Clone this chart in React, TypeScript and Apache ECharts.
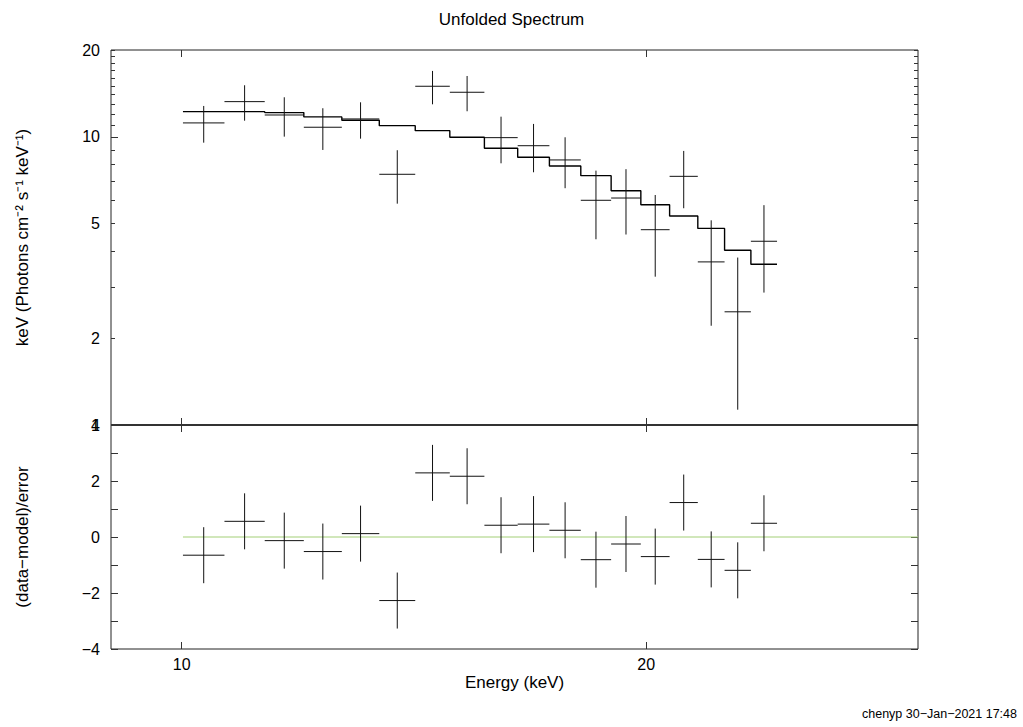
import React, { useEffect, useRef } from "react";
import * as echarts from "echarts";

// ---- data ----
const binEdges = [10.02, 10.66, 11.32, 12.0, 12.7, 13.43, 14.17, 14.92, 15.71, 16.51, 17.31, 18.14, 18.98, 19.84, 20.71, 21.6, 22.48, 23.38, 24.31];
const flux = [11.17, 13.24, 11.9, 10.79, 11.53, 7.41, 14.97, 14.27, 9.93, 9.31, 8.31, 6.02, 6.13, 4.76, 7.29, 3.68, 2.47, 4.34];
const fluxLow = [9.54, 11.37, 10.01, 9.0, 9.85, 5.86, 12.96, 12.26, 8.09, 7.53, 6.63, 4.41, 4.58, 3.27, 5.65, 2.21, 1.13, 2.88];
const fluxHigh = [12.79, 15.09, 13.71, 12.56, 13.17, 8.98, 16.92, 16.25, 11.74, 11.08, 9.96, 7.63, 7.72, 6.28, 8.93, 5.13, 3.81, 5.79];
const model = [12.22, 12.22, 12.13, 11.72, 11.41, 10.93, 10.5, 9.96, 9.12, 8.49, 7.92, 7.33, 6.5, 5.81, 5.31, 4.81, 4.04, 3.61];
const residual = [-0.65, 0.56, -0.13, -0.52, 0.12, -2.27, 2.29, 2.17, 0.42, 0.46, 0.24, -0.81, -0.25, -0.7, 1.23, -0.8, -1.19, 0.49];
const residualErr = [1, 1, 1, 1, 1, 1, 1, 1, 1, 1, 1, 1, 1, 1, 1, 1, 1, 1];

const xMin = 9;
const xMax = 30;
const xTickLabels = [10, 20];
const yTopMin = 1;
const yTopMax = 20;
const yTopLabels = [1, 2, 5, 10, 20];
const yTopMinorTicks = [1, 2, 3, 4, 5, 6, 7, 8, 9, 10, 11, 12, 13, 14, 15, 16, 17, 18, 19, 20];
const yTopMajorTicks = [10];
const yResMin = -4;
const yResMax = 4;

const F = "'Liberation Sans', Arial, Helvetica, sans-serif";
const lg = (v: number) => Math.log10(v);

function buildCross(values: number[], lows: number[], highs: number[]) {
  return values.map((v, i) => {
    const a = binEdges[i];
    const b = binEdges[i + 1];
    return [a, b, Math.sqrt(a * b), v, lows[i], highs[i]];
  });
}

const renderCross = (params: any, api: any) => {
  const x0 = api.value(0), x1 = api.value(1), xc = api.value(2);
  const y = api.value(3), lo = api.value(4), hi = api.value(5);
  const pL = api.coord([x0, y]);
  const pR = api.coord([x1, y]);
  const pT = api.coord([xc, hi]);
  const pB = api.coord([xc, lo]);
  const st = { stroke: "#111", lineWidth: 1 };
  return {
    type: "group",
    children: [
      { type: "line", shape: { x1: pL[0], y1: pL[1], x2: pR[0], y2: pR[1] }, style: st },
      { type: "line", shape: { x1: pT[0], y1: pT[1], x2: pB[0], y2: pB[1] }, style: st },
    ],
  };
};

export default function App() {
  const ref = useRef<HTMLDivElement>(null);
  useEffect(() => {
    if (!ref.current) return;
    const chart = echarts.init(ref.current, undefined, { renderer: "svg" });

    const labelStyle = { fontFamily: F, fontSize: 16, color: "#000" };
    const tickLine = { color: "#333", width: 1 };
    const hiddenAxis = (grid: number, type: string, min: number, max: number) => ({
      gridIndex: grid, type, min, max, show: false, axisLine: { show: false, onZero: false },
    });
    const xTickAxis = (grid: number, position: string, labels: boolean, name?: string) => ({
      gridIndex: grid,
      type: "value",
      position,
      min: lg(xMin),
      max: lg(xMax),
      axisLine: { show: false, onZero: false },
      splitLine: { show: false },
      axisTick: { show: true, inside: true, length: 7, lineStyle: tickLine, customValues: xTickLabels.map(lg) },
      axisLabel: {
        show: labels,
        margin: 7,
        customValues: xTickLabels.map(lg),
        formatter: (v: number) => String(Math.round(Math.pow(10, v))),
        ...labelStyle,
      },
      name: name || "",
      nameLocation: "middle",
      nameGap: 25,
      nameTextStyle: { fontFamily: F, fontSize: 17, color: "#000" },
    });
    const yTopTickAxis = (position: string, ticks: number[], len: number, labels: boolean, name?: string) => ({
      gridIndex: 0,
      type: "value",
      position,
      min: lg(yTopMin),
      max: lg(yTopMax),
      axisLine: { show: false, onZero: false },
      splitLine: { show: false },
      axisTick: { show: true, inside: true, length: len, lineStyle: tickLine, customValues: ticks.map(lg) },
      axisLabel: {
        show: labels,
        margin: 11,
        customValues: yTopLabels.map(lg),
        formatter: (v: number) => String(Math.round(Math.pow(10, v))),
        ...labelStyle,
      },
      name: name || "",
      nameLocation: "middle",
      nameGap: 80,
      nameTextStyle: { fontFamily: F, fontSize: 17, color: "#000" },
    });
    const yResAxis = (position: string, labels: boolean, name?: string) => ({
      gridIndex: 1,
      type: "value",
      position,
      min: yResMin,
      max: yResMax,
      interval: 1,
      axisLine: { show: false, onZero: false },
      splitLine: { show: false },
      axisTick: { show: true, inside: true, length: 7, lineStyle: tickLine },
      axisLabel: {
        show: labels,
        margin: 11,
        formatter: (v: number) => (Math.round(v) % 2 === 0 ? String(v).replace("-", "\u2212") : ""),
        ...labelStyle,
      },
      name: name || "",
      nameLocation: "middle",
      nameGap: 80,
      nameTextStyle: { fontFamily: F, fontSize: 17, color: "#000" },
    });

    const crossTop = buildCross(flux, fluxLow, fluxHigh);
    const crossRes = buildCross(
      residual,
      residual.map((r, i) => r - residualErr[i]),
      residual.map((r, i) => r + residualErr[i])
    );
    const modelStep = binEdges.map((e, i) => [e, model[Math.min(i, model.length - 1)]]);

    chart.setOption({
      animation: false,
      backgroundColor: "#fff",
      title: {
        text: "Unfolded Spectrum",
        left: "center",
        top: 6,
        textStyle: { fontFamily: F, fontSize: 17, fontWeight: "normal", color: "#000" },
      },
      grid: [
        { left: 111, top: 50, width: 807, height: 375, show: true, borderColor: "#222", borderWidth: 1, backgroundColor: "transparent" },
        { left: 111, top: 425, width: 807, height: 224, show: true, borderColor: "#222", borderWidth: 1, backgroundColor: "transparent" },
      ],
      xAxis: [
        hiddenAxis(0, "log", xMin, xMax),
        xTickAxis(0, "bottom", false),
        xTickAxis(0, "top", false),
        hiddenAxis(1, "log", xMin, xMax),
        xTickAxis(1, "bottom", true, "Energy (keV)"),
        xTickAxis(1, "top", false),
      ],
      yAxis: [
        hiddenAxis(0, "log", yTopMin, yTopMax),
        yTopTickAxis("left", yTopMinorTicks, 4, true, "keV (Photons cm\u207B\u00B2 s\u207B\u00B9 keV\u207B\u00B9)"),
        yTopTickAxis("left", yTopMajorTicks, 7, false),
        yTopTickAxis("right", yTopMinorTicks, 4, false),
        yTopTickAxis("right", yTopMajorTicks, 7, false),
        yResAxis("left", true, "(data\u2212model)/error"),
        yResAxis("right", false),
      ],
      graphic: [
        {
          type: "line",
          shape: { x1: 111, y1: 425, x2: 918, y2: 425 },
          style: { stroke: "#333", lineWidth: 2 },
          z: 100,
        },
        {
          type: "text",
          x: 1017,
          y: 714,
          style: {
            text: "chenyp 30\u2212Jan\u22122021 17:48",
            fontFamily: F,
            fontSize: 12.5,
            fill: "#000",
            textAlign: "right",
            textVerticalAlign: "middle",
          },
        },
      ],
      series: [
        {
          type: "line",
          name: "model",
          xAxisIndex: 0,
          yAxisIndex: 0,
          step: "end",
          symbol: "none",
          data: modelStep,
          lineStyle: { color: "#000", width: 1.4 },
          z: 3,
        },
        {
          type: "custom",
          name: "data",
          xAxisIndex: 0,
          yAxisIndex: 0,
          renderItem: renderCross,
          encode: { x: [0, 1, 2], y: [3, 4, 5] },
          data: crossTop,
          z: 4,
        },
        {
          type: "line",
          name: "zero",
          xAxisIndex: 3,
          yAxisIndex: 5,
          symbol: "none",
          data: [[binEdges[0], 0], [xMax, 0]],
          lineStyle: { color: "#a3cf77", width: 1 },
          z: 2,
        },
        {
          type: "custom",
          name: "residuals",
          xAxisIndex: 3,
          yAxisIndex: 5,
          renderItem: renderCross,
          encode: { x: [0, 1, 2], y: [3, 4, 5] },
          data: crossRes,
          z: 4,
        },
      ],
    });
    return () => chart.dispose();
  }, []);
  return (
    <div
      ref={ref}
      style={{ position: "absolute", left: 0, top: 0, width: 1023, height: 727, background: "#fff" }}
    />
  );
}
